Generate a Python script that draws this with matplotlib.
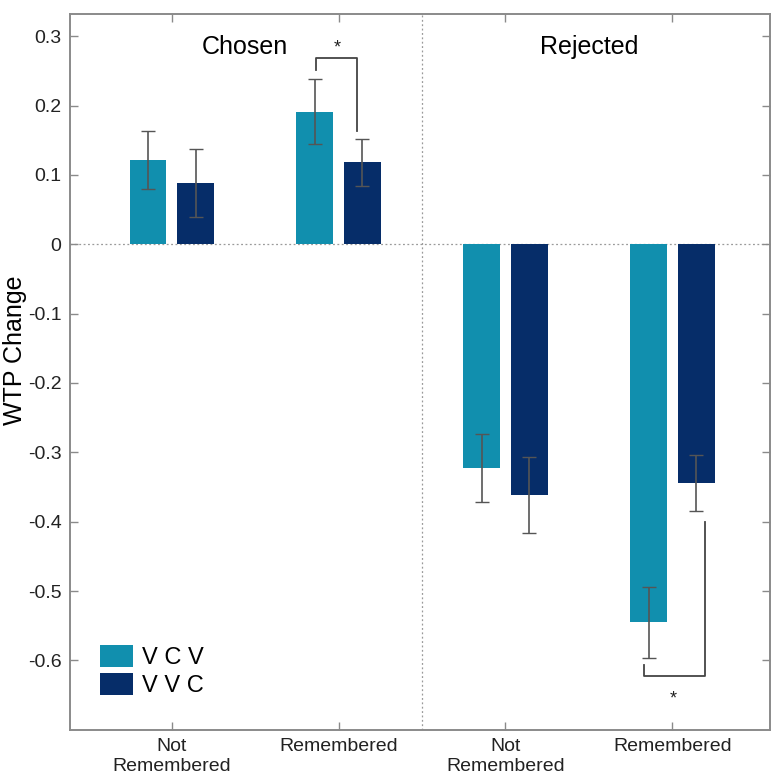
import numpy as np
import matplotlib.pyplot as plt
from matplotlib.patches import Patch

plt.rcParams["font.family"] = ["Liberation Sans", "DejaVu Sans"]

GROUP_LABELS = ["Not\nRemembered", "Remembered", "Not\nRemembered", "Remembered"]
SERIES = ["V C V", "V V C"]
VCV_MEAN = [0.121, 0.191, -0.322, -0.545]
VCV_ERR = [0.042, 0.047, 0.049, 0.051]
VVC_MEAN = [0.089, 0.118, -0.362, -0.344]
VVC_ERR = [0.049, 0.034, 0.055, 0.040]
PANEL_TITLES = ["Chosen", "Rejected"]
Y_TICKS = [-0.6, -0.5, -0.4, -0.3, -0.2, -0.1, 0, 0.1, 0.2, 0.3]

COLOR_VCV = "#118fae"
COLOR_VVC = "#062d69"
SPINE_COLOR = "#8a8a8a"
ERR_COLOR = "#555555"

fig = plt.figure(figsize=(7.77, 7.78), dpi=100)
ax = fig.add_axes([0.090, 0.062, 0.901, 0.920])

x = np.arange(1, len(GROUP_LABELS) + 1)
off = 0.143
w = 0.22
err_kw = dict(ecolor=ERR_COLOR, elinewidth=1.2, capsize=5, capthick=1.0)
ax.bar(x - off, VCV_MEAN, w, yerr=VCV_ERR, color=COLOR_VCV, error_kw=err_kw,
       label=SERIES[0], zorder=2)
ax.bar(x + off, VVC_MEAN, w, yerr=VVC_ERR, color=COLOR_VVC, error_kw=err_kw,
       label=SERIES[1], zorder=2)

ax.axhline(0, color="#9a9a9a", linestyle=(0, (1.5, 2.0)), linewidth=0.9, zorder=1)
ax.axvline(2.5, color="#9a9a9a", linestyle=(0, (1.5, 2.0)), linewidth=0.9, zorder=1)

# significance brackets
bk = dict(color="#444444", linewidth=1.3)
ax.plot([2 - off + 0.01, 2 - off + 0.01, 2 + off - 0.03, 2 + off - 0.03],
        [0.251, 0.268, 0.268, 0.164], **bk)
ax.text(1.99, 0.283, "*", ha="center", va="center", fontsize=13, color="#222222")
ax.plot([4 - off - 0.03, 4 - off - 0.03, 4 + off + 0.05, 4 + off + 0.05],
        [-0.607, -0.623, -0.623, -0.40], **bk)
ax.text(4.005, -0.655, "*", ha="center", va="center", fontsize=13, color="#222222")

ax.text(1.44, 0.284, PANEL_TITLES[0], ha="center", va="center", fontsize=18)
ax.text(3.5, 0.284, PANEL_TITLES[1], ha="center", va="center", fontsize=18)

ax.set_xlim(0.39, 4.585)
ax.set_ylim(-0.70, 0.332)
ax.set_xticks(x)
ax.set_xticklabels(GROUP_LABELS, fontsize=14, linespacing=1.25)
ax.set_yticks(Y_TICKS)
ax.set_yticklabels([f"{t:g}" if t != 0 else "0" for t in Y_TICKS], fontsize=14)
ax.set_ylabel("WTP Change", fontsize=18)
ax.yaxis.set_label_coords(-0.062, 0.53)
ax.tick_params(direction="in", top=True, right=True, length=6, width=1,
               color=SPINE_COLOR, labelcolor="#222222", pad=6)
for s in ax.spines.values():
    s.set_color(SPINE_COLOR)
    s.set_linewidth(1.4)

handles = [Patch(facecolor=COLOR_VCV, label=SERIES[0]),
           Patch(facecolor=COLOR_VVC, label=SERIES[1])]
ax.legend(handles=handles, loc="lower left", bbox_to_anchor=(0.012, 0.016),
          frameon=False, fontsize=17, handlelength=1.4, handleheight=1.1,
          handletextpad=0.4, labelspacing=0.15)

fig.savefig("out.png", dpi=100)
